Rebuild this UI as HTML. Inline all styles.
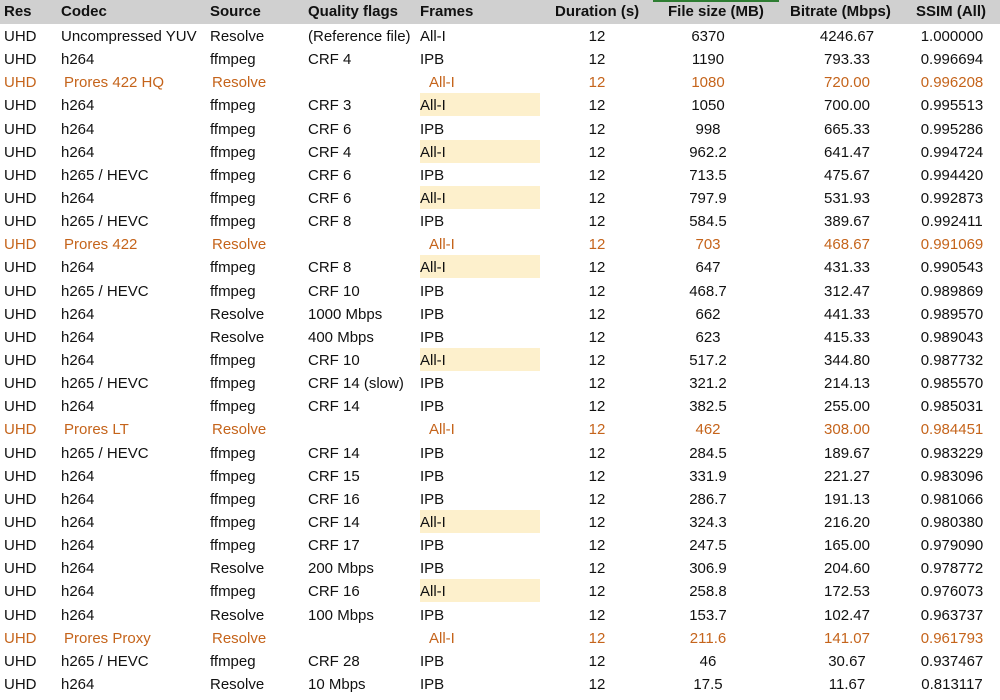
<!DOCTYPE html>
<html><head><meta charset="utf-8"><style>
body{margin:0;width:1000px;height:700px;background:#fff;position:relative;overflow:hidden;font-family:"Liberation Sans",sans-serif;font-size:15px;color:#111}
.hd{position:absolute;left:0;top:0;width:1000px;height:24px;background:#d0d0d0;font-weight:bold}
.g{position:absolute;left:653px;top:0;width:126px;height:2px;background:#2e7d32}
.r{position:absolute;left:0;width:1000px;height:23px}
.r span{position:absolute;top:4px;white-space:nowrap}
.hd span{position:absolute;top:3px;white-space:nowrap}
.o{color:#c5641b}
.hl{position:absolute;left:420px;top:0;width:120px;height:23px;background:#fdf0cc}
.a{left:4px}.b{left:61px}.c{left:210px}.d{left:308px}.e{left:420px}.o .e{left:429px}
.f{left:567px;width:60px;text-align:center}.h{left:658px;width:100px;text-align:center}
.i{left:797px;width:100px;text-align:center}.j{left:902px;width:100px;text-align:center}
</style></head><body>
<div class="hd"><span class="a">Res</span><span class="b">Codec</span><span class="c">Source</span><span class="d">Quality flags</span><span class="e">Frames</span><span style="left:555px">Duration (s)</span><span style="left:668px">File size (MB)</span><span style="left:790px">Bitrate (Mbps)</span><span style="left:916px">SSIM (All)</span></div>
<div class="g"></div>
<div class="r" style="top:24px"><span class="a">UHD</span><span class="b">Uncompressed YUV</span><span class="c">Resolve</span><span class="d">(Reference file)</span><span class="e">All-I</span><span class="f">12</span><span class="h">6370</span><span class="i">4246.67</span><span class="j">1.000000</span></div>
<div class="r" style="top:47px"><span class="a">UHD</span><span class="b">h264</span><span class="c">ffmpeg</span><span class="d">CRF 4</span><span class="e">IPB</span><span class="f">12</span><span class="h">1190</span><span class="i">793.33</span><span class="j">0.996694</span></div>
<div class="r o" style="top:70px"><span class="a">UHD</span><span class="b" style="left:64px">Prores 422 HQ</span><span class="c" style="left:212px">Resolve</span><span class="e">All-I</span><span class="f">12</span><span class="h">1080</span><span class="i">720.00</span><span class="j">0.996208</span></div>
<div class="r" style="top:93px"><div class="hl"></div><span class="a">UHD</span><span class="b">h264</span><span class="c">ffmpeg</span><span class="d">CRF 3</span><span class="e">All-I</span><span class="f">12</span><span class="h">1050</span><span class="i">700.00</span><span class="j">0.995513</span></div>
<div class="r" style="top:116.6px"><span class="a">UHD</span><span class="b">h264</span><span class="c">ffmpeg</span><span class="d">CRF 6</span><span class="e">IPB</span><span class="f">12</span><span class="h">998</span><span class="i">665.33</span><span class="j">0.995286</span></div>
<div class="r" style="top:139.7px"><div class="hl"></div><span class="a">UHD</span><span class="b">h264</span><span class="c">ffmpeg</span><span class="d">CRF 4</span><span class="e">All-I</span><span class="f">12</span><span class="h">962.2</span><span class="i">641.47</span><span class="j">0.994724</span></div>
<div class="r" style="top:162.8px"><span class="a">UHD</span><span class="b">h265 / HEVC</span><span class="c">ffmpeg</span><span class="d">CRF 6</span><span class="e">IPB</span><span class="f">12</span><span class="h">713.5</span><span class="i">475.67</span><span class="j">0.994420</span></div>
<div class="r" style="top:186px"><div class="hl"></div><span class="a">UHD</span><span class="b">h264</span><span class="c">ffmpeg</span><span class="d">CRF 6</span><span class="e">All-I</span><span class="f">12</span><span class="h">797.9</span><span class="i">531.93</span><span class="j">0.992873</span></div>
<div class="r" style="top:209.1px"><span class="a">UHD</span><span class="b">h265 / HEVC</span><span class="c">ffmpeg</span><span class="d">CRF 8</span><span class="e">IPB</span><span class="f">12</span><span class="h">584.5</span><span class="i">389.67</span><span class="j">0.992411</span></div>
<div class="r o" style="top:232.3px"><span class="a">UHD</span><span class="b" style="left:64px">Prores 422</span><span class="c" style="left:212px">Resolve</span><span class="e">All-I</span><span class="f">12</span><span class="h">703</span><span class="i">468.67</span><span class="j">0.991069</span></div>
<div class="r" style="top:255.4px"><div class="hl"></div><span class="a">UHD</span><span class="b">h264</span><span class="c">ffmpeg</span><span class="d">CRF 8</span><span class="e">All-I</span><span class="f">12</span><span class="h">647</span><span class="i">431.33</span><span class="j">0.990543</span></div>
<div class="r" style="top:278.5px"><span class="a">UHD</span><span class="b">h265 / HEVC</span><span class="c">ffmpeg</span><span class="d">CRF 10</span><span class="e">IPB</span><span class="f">12</span><span class="h">468.7</span><span class="i">312.47</span><span class="j">0.989869</span></div>
<div class="r" style="top:301.7px"><span class="a">UHD</span><span class="b">h264</span><span class="c">Resolve</span><span class="d">1000 Mbps</span><span class="e">IPB</span><span class="f">12</span><span class="h">662</span><span class="i">441.33</span><span class="j">0.989570</span></div>
<div class="r" style="top:324.8px"><span class="a">UHD</span><span class="b">h264</span><span class="c">Resolve</span><span class="d">400 Mbps</span><span class="e">IPB</span><span class="f">12</span><span class="h">623</span><span class="i">415.33</span><span class="j">0.989043</span></div>
<div class="r" style="top:348px"><div class="hl"></div><span class="a">UHD</span><span class="b">h264</span><span class="c">ffmpeg</span><span class="d">CRF 10</span><span class="e">All-I</span><span class="f">12</span><span class="h">517.2</span><span class="i">344.80</span><span class="j">0.987732</span></div>
<div class="r" style="top:371.1px"><span class="a">UHD</span><span class="b">h265 / HEVC</span><span class="c">ffmpeg</span><span class="d">CRF 14 (slow)</span><span class="e">IPB</span><span class="f">12</span><span class="h">321.2</span><span class="i">214.13</span><span class="j">0.985570</span></div>
<div class="r" style="top:394.2px"><span class="a">UHD</span><span class="b">h264</span><span class="c">ffmpeg</span><span class="d">CRF 14</span><span class="e">IPB</span><span class="f">12</span><span class="h">382.5</span><span class="i">255.00</span><span class="j">0.985031</span></div>
<div class="r o" style="top:417.4px"><span class="a">UHD</span><span class="b" style="left:64px">Prores LT</span><span class="c" style="left:212px">Resolve</span><span class="e">All-I</span><span class="f">12</span><span class="h">462</span><span class="i">308.00</span><span class="j">0.984451</span></div>
<div class="r" style="top:440.5px"><span class="a">UHD</span><span class="b">h265 / HEVC</span><span class="c">ffmpeg</span><span class="d">CRF 14</span><span class="e">IPB</span><span class="f">12</span><span class="h">284.5</span><span class="i">189.67</span><span class="j">0.983229</span></div>
<div class="r" style="top:463.7px"><span class="a">UHD</span><span class="b">h264</span><span class="c">ffmpeg</span><span class="d">CRF 15</span><span class="e">IPB</span><span class="f">12</span><span class="h">331.9</span><span class="i">221.27</span><span class="j">0.983096</span></div>
<div class="r" style="top:486.8px"><span class="a">UHD</span><span class="b">h264</span><span class="c">ffmpeg</span><span class="d">CRF 16</span><span class="e">IPB</span><span class="f">12</span><span class="h">286.7</span><span class="i">191.13</span><span class="j">0.981066</span></div>
<div class="r" style="top:509.9px"><div class="hl"></div><span class="a">UHD</span><span class="b">h264</span><span class="c">ffmpeg</span><span class="d">CRF 14</span><span class="e">All-I</span><span class="f">12</span><span class="h">324.3</span><span class="i">216.20</span><span class="j">0.980380</span></div>
<div class="r" style="top:533.1px"><span class="a">UHD</span><span class="b">h264</span><span class="c">ffmpeg</span><span class="d">CRF 17</span><span class="e">IPB</span><span class="f">12</span><span class="h">247.5</span><span class="i">165.00</span><span class="j">0.979090</span></div>
<div class="r" style="top:556.2px"><span class="a">UHD</span><span class="b">h264</span><span class="c">Resolve</span><span class="d">200 Mbps</span><span class="e">IPB</span><span class="f">12</span><span class="h">306.9</span><span class="i">204.60</span><span class="j">0.978772</span></div>
<div class="r" style="top:579.4px"><div class="hl"></div><span class="a">UHD</span><span class="b">h264</span><span class="c">ffmpeg</span><span class="d">CRF 16</span><span class="e">All-I</span><span class="f">12</span><span class="h">258.8</span><span class="i">172.53</span><span class="j">0.976073</span></div>
<div class="r" style="top:602.5px"><span class="a">UHD</span><span class="b">h264</span><span class="c">Resolve</span><span class="d">100 Mbps</span><span class="e">IPB</span><span class="f">12</span><span class="h">153.7</span><span class="i">102.47</span><span class="j">0.963737</span></div>
<div class="r o" style="top:625.6px"><span class="a">UHD</span><span class="b" style="left:64px">Prores Proxy</span><span class="c" style="left:212px">Resolve</span><span class="e">All-I</span><span class="f">12</span><span class="h">211.6</span><span class="i">141.07</span><span class="j">0.961793</span></div>
<div class="r" style="top:648.8px"><span class="a">UHD</span><span class="b">h265 / HEVC</span><span class="c">ffmpeg</span><span class="d">CRF 28</span><span class="e">IPB</span><span class="f">12</span><span class="h">46</span><span class="i">30.67</span><span class="j">0.937467</span></div>
<div class="r" style="top:671.9px"><span class="a">UHD</span><span class="b">h264</span><span class="c">Resolve</span><span class="d">10 Mbps</span><span class="e">IPB</span><span class="f">12</span><span class="h">17.5</span><span class="i">11.67</span><span class="j">0.813117</span></div>
</body></html>
